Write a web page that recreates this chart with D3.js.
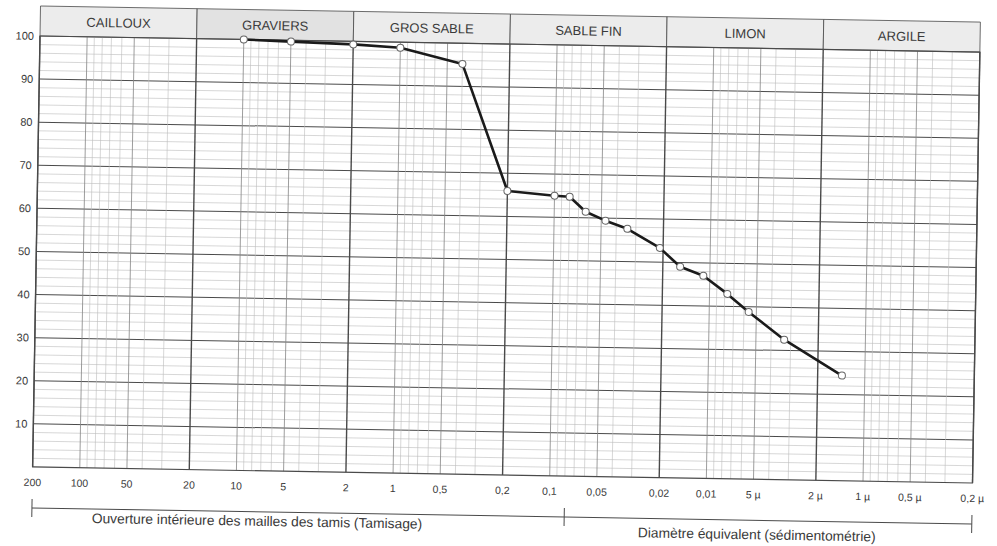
<!DOCTYPE html>
<html>
<head>
<meta charset="utf-8">
<script src="https://cdn.jsdelivr.net/npm/d3@7"></script>
<style>
  html, body { margin: 0; padding: 0; background: #fff; }
  svg { display: block; }
</style>
</head>
<body>
<div id="chart"></div>
<script>
// Granulometric curve — % passing vs. particle diameter (mm, log scale, reversed)

const INK   = '#1a1a1a';
const TEXT  = '#3a3a3a';
const MAJOR = '#4a4a4a';
const MID   = '#858585';
const MINOR = '#bdbdbd';
const HEAD  = '#ececec';
const FONT  = "'Liberation Sans', Arial, sans-serif";

// Soil classes (header band), bounds in mm
const classNames  = ['CAILLOUX', 'GRAVIERS', 'GROS SABLE', 'SABLE FIN', 'LIMON', 'ARGILE'];
const classBounds = [200, 20, 2, 0.2, 0.02, 0.002, 0.0002];

// Bottom tick labels
const tickValues = [200, 100, 50, 20, 10, 5, 2, 1, 0.5, 0.2, 0.1, 0.05, 0.02, 0.01, 0.005, 0.002, 0.001, 0.0005, 0.0002];
const tickLabels = ['200', '100', '50', '20', '10', '5', '2', '1', '0,5', '0,2', '0,1', '0,05', '0,02', '0,01', '5 µ', '2 µ', '1 µ', '0,5 µ', '0,2 µ'];

// Percent ticks
const percentTicks = [10, 20, 30, 40, 50, 60, 70, 80, 90, 100];

// Measured points: diameter (mm) and % passing
const diameters = [10, 5, 2, 1, 0.4, 0.2, 0.1, 0.08, 0.063, 0.047, 0.034, 0.021, 0.0155, 0.011, 0.0077, 0.0056, 0.0033, 0.0014];
const passing   = [100, 99.7, 99.3, 98.7, 95.2, 65.9, 65.0, 64.8, 61.4, 59.4, 57.6, 53.3, 49.0, 47.0, 42.9, 38.8, 32.5, 24.4];

// Bracket under the axis: stops (mm), captions and where they sit (mm)
const bracketStops = [200, 0.08, 0.0002];
const bracketCaptions = ['Ouverture intérieure des mailles des tamis (Tamisage)', 'Diamètre équivalent (sédimentométrie)'];
const captionAt = [7.3, 0.0047];

const W = 997, H = 546;
const width = 940, height = 431, headH = 30;

const svg = d3.select('#chart').append('svg')
  .attr('width', W).attr('height', H)
  .attr('viewBox', `0 0 ${W} ${H}`);

svg.append('rect').attr('width', W).attr('height', H).attr('fill', '#fff');

// the sheet is scanned slightly askew
const g = svg.append('g')
  .attr('transform', 'rotate(0.98 40 36) translate(40,36)');

const x = d3.scaleLog().domain([200, 0.0002]).range([0, width]);
const y = d3.scaleLinear().domain([0, 100]).range([height, 0]);

// Header band
const cells = classNames.map((name, i) => ({ name, a: classBounds[i], b: classBounds[i + 1] }));
g.selectAll('rect.head')
  .data(cells)
  .join('rect')
  .attr('class', 'head')
  .attr('x', d => x(d.a)).attr('y', -headH)
  .attr('width', d => x(d.b) - x(d.a)).attr('height', headH)
  .attr('fill', (d, i) => i === 1 ? '#e2e2e2' : HEAD)
  .attr('stroke', MAJOR).attr('stroke-width', 0.8);

g.selectAll('text.head')
  .data(cells)
  .join('text')
  .attr('class', 'head')
  .attr('x', d => (x(d.a) + x(d.b)) / 2)
  .attr('y', -10)
  .attr('text-anchor', 'middle')
  .style('font-family', FONT).style('font-size', '13px').style('fill', TEXT)
  .text(d => d.name);

// Horizontal grid: every 2 %, darker every 10 %
const hLines = d3.range(2, 100, 2);
g.selectAll('line.h')
  .data(hLines)
  .join('line')
  .attr('class', 'h')
  .attr('x1', 0).attr('x2', width)
  .attr('y1', d => y(d)).attr('y2', d => y(d))
  .attr('stroke', d => d % 10 === 0 ? MAJOR : MINOR)
  .attr('stroke-width', d => d % 10 === 0 ? 1 : 0.6);

// Vertical grid from log ticks
const vLines = [];
for (let e = -4; e <= 2; e++) {
  for (let m = 1; m <= 9; m++) {
    const v = m * Math.pow(10, e);
    if (v < 0.0002 || v > 200) continue;
    vLines.push(+v.toPrecision(3));
  }
}
const isBound = v => classBounds.some(b => Math.abs(b - v) / b < 1e-6);
const isLabel = v => tickValues.some(b => Math.abs(b - v) / b < 1e-6);

g.selectAll('line.v')
  .data(vLines)
  .join('line')
  .attr('class', 'v')
  .attr('x1', d => x(d)).attr('x2', d => x(d))
  .attr('y1', 0).attr('y2', height)
  .attr('stroke', d => isBound(d) ? MAJOR : isLabel(d) ? MID : MINOR)
  .attr('stroke-width', d => isBound(d) ? 1.4 : isLabel(d) ? 0.8 : 0.6);

// Frame
g.append('rect')
  .attr('x', 0).attr('y', 0)
  .attr('width', width).attr('height', height)
  .attr('fill', 'none')
  .attr('stroke', MAJOR).attr('stroke-width', 1.2);

// Y labels
g.selectAll('text.y')
  .data(percentTicks)
  .join('text')
  .attr('class', 'y')
  .attr('x', -6)
  .attr('y', d => y(d))
  .attr('dy', '0.35em')
  .attr('text-anchor', 'end')
  .style('font-family', FONT).style('font-size', '11px').style('fill', TEXT)
  .text(d => d);

// X labels
g.selectAll('text.x')
  .data(tickValues)
  .join('text')
  .attr('class', 'x')
  .attr('x', d => x(d))
  .attr('y', height + 19)
  .attr('text-anchor', 'middle')
  .style('font-family', FONT).style('font-size', '10.5px').style('fill', TEXT)
  .text((d, i) => tickLabels[i]);

// Bracket line with stops and captions
const by = height + 41;
g.append('line')
  .attr('x1', x(bracketStops[0])).attr('x2', x(bracketStops[2]))
  .attr('y1', by).attr('y2', by)
  .attr('stroke', MAJOR).attr('stroke-width', 1);

g.selectAll('line.stop')
  .data(bracketStops)
  .join('line')
  .attr('class', 'stop')
  .attr('x1', d => x(d)).attr('x2', d => x(d))
  .attr('y1', by - 9).attr('y2', by + 9)
  .attr('stroke', MAJOR).attr('stroke-width', 1);

g.selectAll('text.cap')
  .data(bracketCaptions)
  .join('text')
  .attr('class', 'cap')
  .attr('x', (d, i) => x(captionAt[i]))
  .attr('y', (d, i) => i === 0 ? by + 14 : by + 19)
  .attr('text-anchor', 'middle')
  .style('font-family', FONT).style('font-size', '13.8px').style('fill', TEXT)
  .text(d => d);

// Curve
const pts = diameters.map((d, i) => ({ d, p: passing[i] }));

g.append('path')
  .datum(pts)
  .attr('fill', 'none')
  .attr('stroke', INK)
  .attr('stroke-width', 2.6)
  .attr('stroke-linejoin', 'round')
  .attr('d', d3.line().x(d => x(d.d)).y(d => y(d.p)));

g.selectAll('circle.pt')
  .data(pts)
  .join('circle')
  .attr('class', 'pt')
  .attr('cx', d => x(d.d)).attr('cy', d => y(d.p))
  .attr('r', 3.5)
  .attr('fill', '#fff')
  .attr('stroke', '#666').attr('stroke-width', 1);
</script>
</body>
</html>
